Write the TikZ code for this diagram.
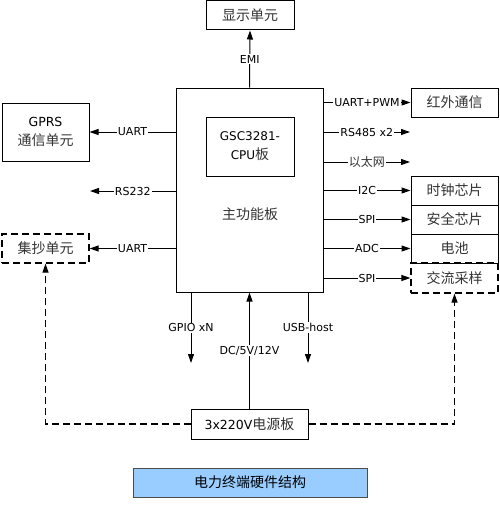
\documentclass[tikz,border=0pt]{standalone}
\usepackage{fontspec}
\setmainfont{DejaVu Sans}
\newfontfamily\cjk{Noto Sans CJK SC}
\usetikzlibrary{arrows.meta}
\newcommand\zh[1]{{\cjk\color{black!80}#1}}
\definecolor{titleblue}{HTML}{99CCFF}
\begin{document}
\begin{tikzpicture}[x=1pt,y=-1pt,
  box/.style={draw,line width=1pt,inner sep=0pt,align=center,font=\fontsize{12}{19}\selectfont},
  arr/.style={line width=1pt,-{Triangle[length=9pt,width=6pt]}},
  dline/.style={line width=1.2pt,dash pattern=on 7pt off 4pt},
  lab/.style={fill=white,inner sep=1pt,font=\fontsize{11}{13}\selectfont},
  zhbig/.style={font=\fontsize{14}{19}\selectfont}]
\useasboundingbox (0,0) rectangle (500,511);
% boxes
\node[box,minimum width=147pt,minimum height=204pt] (main) at (249.5,190) {};
\node[zhbig] (maintxt) at (250,214) {\zh{主功能板}};
\node[box,minimum width=88pt,minimum height=59pt] (cpu) at (250,146.5) {GSC3281-\\CPU{\cjk\fontsize{14}{19}\selectfont\color{black!80}板}};
\node[box,minimum width=88pt,minimum height=29pt,zhbig] (disp) at (250,15.5) {\zh{显示单元}};
\node[box,minimum width=87pt,minimum height=58pt] (gprs) at (45.5,132) {{\fontsize{12.5}{19}\selectfont GPRS}\\{\fontsize{14}{19}\selectfont\zh{通信单元}}};
\node[box,dline,minimum width=87pt,minimum height=29pt,zhbig] (jichao) at (45.5,248.5) {\zh{集抄单元}};
\node[box,minimum width=87pt,minimum height=29pt,zhbig] (ir) at (454.5,102.5) {\zh{红外通信}};
\node[box,dline,minimum width=87pt,minimum height=30pt,zhbig] (ac) at (454.5,278) {\zh{交流采样}};
\node[box,minimum width=87pt,minimum height=29pt,zhbig] (clock) at (454.5,190.5) {\zh{时钟芯片}};
\node[box,minimum width=87pt,minimum height=29pt,zhbig] (sec) at (454.5,219.5) {\zh{安全芯片}};
\node[box,minimum width=87pt,minimum height=29pt,zhbig] (bat) at (454.5,248.5) {\zh{电池}};
\node[box,minimum width=117pt,minimum height=30pt] (power) at (249.5,424) {{\fontsize{12.5}{19}\selectfont 3x220V}{\fontsize{14}{19}\selectfont\zh{电源板}}};
\node[draw=black!70,fill=titleblue,line width=0.8pt,minimum width=234pt,minimum height=29pt,inner sep=0pt,font=\fontsize{14}{19}\selectfont] (title) at (250,482.5) {{\cjk 电力终端硬件结构}};
% free ends
\coordinate (rs232end) at (90,191);
\coordinate (rs485end) at (410,132);
\coordinate (ethend) at (410,162);
\coordinate (gpioend) at (191,363);
\coordinate (usbend) at (308,363);
% connectors
\draw[arr] (main.north) -- node[lab]{EMI} (disp.south);
\draw[arr] (main.west |- gprs.east) -- node[lab]{UART} (gprs.east);
\draw[arr] (main.west |- rs232end) -- node[lab]{RS232} (rs232end);
\draw[arr] (main.west |- jichao.east) -- node[lab]{UART} (jichao.east);
\draw[arr] (main.east |- ir.west) -- node[lab]{UART+PWM} (ir.west);
\draw[arr] (main.east |- rs485end) -- node[lab]{RS485 x2} (rs485end);
\draw[arr] (main.east |- ethend) -- node[lab,font=\fontsize{12}{13}\selectfont]{\zh{以太网}} (ethend);
\draw[arr] (main.east |- clock.west) -- node[lab]{I2C} (clock.west);
\draw[arr] (main.east |- sec.west) -- node[lab]{SPI} (sec.west);
\draw[arr] (main.east |- bat.west) -- node[lab]{ADC} (bat.west);
\draw[arr] (main.east |- ac.west) -- node[lab]{SPI} (ac.west);
\draw[arr] (gpioend |- main.south) -- node[lab]{GPIO xN} (gpioend);
\draw[arr] (usbend |- main.south) -- node[lab]{USB-host} (usbend);
\draw[arr] (power.north) -- node[lab]{DC/5V/12V} (main.south);
\draw[dline,-{Triangle[length=9pt,width=6pt]}] (power.west) -| (jichao.south);
\draw[dline,-{Triangle[length=9pt,width=6pt]}] (power.east) -| (ac.south);
\end{tikzpicture}
\end{document}
